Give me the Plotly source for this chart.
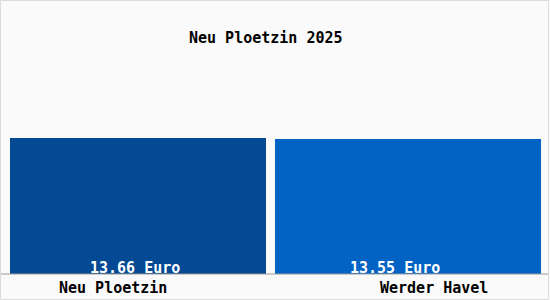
import plotly.graph_objects as go

categories = ["Neu Ploetzin", "Werder Havel"]
values = [13.66, 13.55]
value_labels = ["13.66 Euro", "13.55 Euro"]
title_text = "Neu Ploetzin 2025"

bar_colors = ["#034994", "#0263c4"]
bar_widths = [0.948, 0.985]
label_shifts = [-25, 25.5]
value_shifts = [-3.5, -13.5]
FONT = "DejaVu Sans Mono"

fig = go.Figure()
fig.add_trace(go.Bar(
    x=categories, y=values, width=bar_widths,
    marker=dict(color=bar_colors, line=dict(width=0)),
    hoverinfo="skip", showlegend=False,
))

for cat, lab, xs in zip(categories, value_labels, value_shifts):
    fig.add_annotation(x=cat, y=0, xref="x", yref="y", text=lab, showarrow=False,
                       xanchor="center", yanchor="middle", xshift=xs, yshift=6,
                       font=dict(family=FONT, size=15, color="white", weight="bold"))
for cat, xs in zip(categories, label_shifts):
    fig.add_annotation(x=cat, y=0, xref="x", yref="y", text=cat, showarrow=False,
                       xanchor="center", yanchor="middle", xshift=xs, yshift=-14,
                       font=dict(family=FONT, size=15, color="black", weight="bold"))

fig.add_annotation(x=265.5 / 550, y=1 - 38 / 300, xref="paper", yref="paper", text=title_text,
                   showarrow=False, xanchor="center", yanchor="middle",
                   font=dict(family=FONT, size=15, color="black", weight="bold"))

# baseline
fig.add_shape(type="line", xref="paper", yref="y", x0=0, x1=548 / 550, y0=0, y1=0,
              line=dict(color="#9a9a9a", width=1), layer="above")
# outer border
fig.add_shape(type="rect", xref="paper", yref="paper", x0=0.5 / 550, x1=548.5 / 550,
              y0=0.5 / 300, y1=1 - 0.5 / 300, line=dict(color="#dcdcdc", width=1))

fig.update_layout(
    width=550, height=300, margin=dict(l=0, r=0, t=0, b=0),
    paper_bgcolor="#fafafa", plot_bgcolor="#fafafa",
    bargap=0,
    xaxis=dict(range=[-0.5111, 1.5259], showticklabels=False, showgrid=False,
               zeroline=False, showline=False, fixedrange=True),
    yaxis=dict(range=[-2.611, 27.52], showticklabels=False, showgrid=False,
               zeroline=False, showline=False, fixedrange=True),
)
fig.write_html("out.html", config={"displayModeBar": False})
